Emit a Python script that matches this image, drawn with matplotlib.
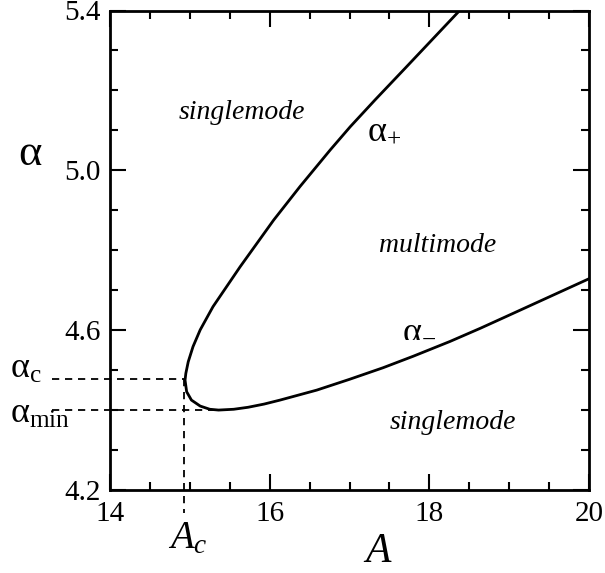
"""
Phase diagram: singlemode / multimode regions in the (A, alpha) plane.
"""
import numpy as np
import matplotlib
matplotlib.use("Agg")
import matplotlib.pyplot as plt
from matplotlib.ticker import MultipleLocator

###
# DATA
###
# boundary curve, traced from the top of alpha_+ down round the tip and out along alpha_-
A_curve = [18.38, 17.70, 17.32, 17.01, 16.76, 16.38, 16.05, 15.63, 15.29, 15.13,
           15.04, 14.98, 14.95, 14.94, 14.96, 15.02, 15.13, 15.25, 15.36, 15.55,
           15.73, 15.93, 16.13, 16.59, 17.00, 17.42, 17.80, 18.26, 18.64, 18.97, 20.00]
alpha_curve = [5.400, 5.256, 5.176, 5.109, 5.051, 4.959, 4.875, 4.758, 4.658, 4.600,
               4.558, 4.520, 4.491, 4.474, 4.445, 4.424, 4.409, 4.401, 4.399, 4.401,
               4.406, 4.414, 4.424, 4.449, 4.476, 4.505, 4.534, 4.571, 4.604, 4.634, 4.728]

A_c = 14.93
alpha_c = 4.477
A_min = 15.40
alpha_min = 4.398

x_major = [14, 16, 18, 20]
y_major = [4.2, 4.6, 5.0, 5.4]

###
# STYLE
###
plt.rcParams["font.family"] = ["Liberation Serif", "DejaVu Serif"]
plt.rcParams["mathtext.fontset"] = "custom"
plt.rcParams["mathtext.rm"] = "Liberation Serif"
plt.rcParams["mathtext.it"] = "Liberation Serif:italic"

W, H = 605, 573
fig = plt.figure(figsize=(W / 100, H / 100), dpi=100)
# axes box in pixels: x 110..589, y 10.5..489.5
ax = fig.add_axes([110 / W, 1 - 489.5 / H, 479 / W, 479 / H])


def fx(px):
    return (px - 110) / 479


def fy(py):
    return (489.5 - py) / 479


ax.plot(A_curve, alpha_curve, color="black", lw=2.0, solid_joinstyle="round")

# dashed guides for alpha_c, alpha_min and A_c
dash = dict(color="black", lw=1.3, ls=(0, (4, 3.2)), clip_on=False)
yt = ax.get_yaxis_transform()
xt = ax.get_xaxis_transform()
ax.plot([fx(52), (A_c - 14) / 6], [alpha_c, alpha_c], transform=yt, **dash)
ax.plot([fx(52), (A_min - 14) / 6], [alpha_min, alpha_min], transform=yt, **dash)
ax.plot([A_c, A_c], [(alpha_c - 4.2) / 1.2, fy(513)], transform=xt, **dash)

ax.set_xlim(14, 20)
ax.set_ylim(4.2, 5.4)
ax.set_xticks(x_major)
ax.set_yticks(y_major)
ax.set_xticklabels([str(v) for v in x_major])
ax.set_yticklabels([f"{v:.1f}" for v in y_major])
ax.xaxis.set_minor_locator(MultipleLocator(0.5))
ax.yaxis.set_minor_locator(MultipleLocator(0.1))
ax.tick_params(which="both", direction="in", top=True, right=True, width=1.5, colors="black")
ax.tick_params(which="major", length=11.5)
ax.tick_params(which="minor", length=6)
ax.tick_params(axis="x", labelsize=21, pad=8)
ax.tick_params(axis="y", labelsize=21, pad=7)
for s in ax.spines.values():
    s.set_linewidth(2.0)

# region labels
ax.text(15.65, 5.129, "singlemode", style="italic", fontsize=20, ha="center", va="baseline")
ax.text(18.10, 4.795, "multimode", style="italic", fontsize=20, ha="center", va="baseline")
ax.text(18.30, 4.352, "singlemode", style="italic", fontsize=20, ha="center", va="baseline")

# branch labels
ax.text(17.22, 5.076, r"$\mathrm{\alpha}_{+}$", fontsize=26, ha="left", va="baseline")
ax.text(17.66, 4.582, r"$\mathrm{\alpha}_{-}$", fontsize=26, ha="left", va="baseline")

# labels outside the box
ax.text(fx(10), fy(378), r"$\mathrm{\alpha}_\mathrm{c}$", fontsize=26,
        transform=ax.transAxes, ha="left", va="baseline")
ax.text(fx(10), fy(423), r"$\mathrm{\alpha}_\mathrm{min}$", fontsize=26,
        transform=ax.transAxes, ha="left", va="baseline")
ax.text(fx(168), fy(548), r"$A_c$", fontsize=28,
        transform=ax.transAxes, ha="left", va="baseline")
ax.text(fx(30), fy(165), "α", fontsize=32,
        transform=ax.transAxes, ha="center", va="baseline")
ax.text(fx(378), fy(562), "A", style="italic", fontsize=30,
        transform=ax.transAxes, ha="center", va="baseline")

fig.savefig("out.png", dpi=100)
